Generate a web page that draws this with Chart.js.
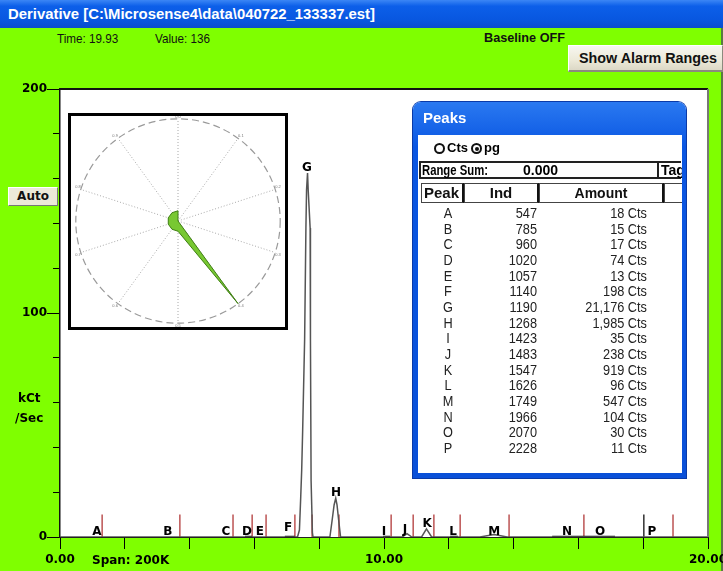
<!DOCTYPE html>
<html>
<head>
<meta charset="utf-8">
<script src="https://cdn.jsdelivr.net/npm/chart.js@4.4.0/dist/chart.umd.min.js"></script>
<style>
html,body{margin:0;padding:0;}
body{width:723px;height:571px;overflow:hidden;position:relative;background:#7FFF00;
  font-family:"Liberation Sans",Arial,sans-serif;}
.abs{position:absolute;white-space:nowrap;}
#titlebar{left:0;top:0;width:723px;height:28px;
  background:linear-gradient(#3b86f5,#0c5fe9 22%,#0857e0 70%,#0a4ccc);}
#titleTxt{left:8px;top:5px;color:#fff;font-weight:bold;font-size:15px;line-height:18px;transform-origin:left center;}
#winedge{left:721px;top:28px;width:2px;height:543px;background:#5a7a40;}
#timeTxt{left:57px;top:31px;font-size:13px;color:#111;transform-origin:left center;}
#valueTxt{left:155px;top:31px;font-size:13px;color:#111;transform-origin:left center;}
#baseTxt{left:484px;top:30px;font-size:13px;font-weight:bold;color:#111;transform-origin:left center;}
#alarmBtn{left:568px;top:45px;width:155px;height:27px;box-sizing:border-box;
  background:linear-gradient(#f7f6f0,#ece9d8 60%,#dcd8c6);border-top:1px solid #fff;border-left:1px solid #fff;
  border-bottom:2px solid #8c8a7e;border-right:1px solid #8c8a7e;}
#alarmTxt{left:10px;top:4px;font-weight:bold;font-size:14px;line-height:17px;color:#111;}
#autoBtn{left:8px;top:187px;width:50px;height:19px;box-sizing:border-box;background:#ece9d8;
  border-top:1px solid #fff;border-left:1px solid #fff;border-bottom:1px solid #777;border-right:1px solid #777;
  font:bold 12px "DejaVu Sans",sans-serif;line-height:17px;text-align:center;color:#111;z-index:3;}
.ylab{font:bold 12px "DejaVu Sans",sans-serif;color:#000;z-index:3;}
#main{position:absolute;left:0;top:0;z-index:1;}
#inset{left:68px;top:113px;width:214px;height:211px;border:3px solid #000;background:#fff;z-index:3;overflow:hidden;}
#polar{position:absolute;left:-2px;top:-2px;}
#peaks{left:413px;top:102px;width:273px;height:376px;z-index:4;border-radius:8px 8px 0 0;
  background:linear-gradient(#2a79f1,#0a56e2 12%,#0a50d8);box-shadow:0 0 0 1px #0a3aa8;}
#peaksTitle{left:10px;top:7px;color:#fff;font:bold 15px "Liberation Sans",sans-serif;}
#client{left:5px;top:33px;width:264px;height:338px;background:#fff;overflow:hidden;}
.radio{position:absolute;width:7px;height:7px;border:2px solid #111;border-radius:50%;}
.radio.sel::after{content:"";position:absolute;left:1.5px;top:1.5px;width:4px;height:4px;border-radius:50%;background:#111;}
.bold{font-weight:bold;}
#rangeBox{left:1px;top:26px;width:262px;height:18px;box-sizing:border-box;border:2px solid #222;border-right:none;}
#hdr{left:3px;top:48px;width:262px;height:20px;}
.hc{position:absolute;top:0;height:20px;box-sizing:border-box;border:1px solid #444;border-right:2px solid #111;
  font-weight:bold;font-size:14px;line-height:18px;color:#111;}
.row{position:absolute;left:0;width:264px;height:16px;font-size:15px;line-height:16px;color:#222;}
.row span{position:absolute;top:0;}
</style>
</head>
<body>
<div id="titlebar" class="abs"><div id="titleTxt" class="abs" data-fit="367">Derivative [C:\Microsense4\data\040722_133337.est]</div></div>
<div id="winedge" class="abs"></div>
<div id="timeTxt" class="abs" data-scale="0.9">Time: 19.93</div>
<div id="valueTxt" class="abs" data-scale="0.9">Value: 136</div>
<div id="baseTxt" class="abs" data-fit="81">Baseline OFF</div>
<div id="alarmBtn" class="abs"><div id="alarmTxt" class="abs" data-fit="138">Show Alarm Ranges</div></div>
<canvas id="main" width="723" height="571"></canvas>
<div id="autoBtn" class="abs">Auto</div>
<div class="abs ylab" style="left:18px;top:391px;">kCt</div>
<div class="abs ylab" style="left:15px;top:411px;">/Sec</div>
<div id="inset" class="abs"><canvas id="polar" width="218" height="215"></canvas></div>
<div id="peaks" class="abs">
  <div id="peaksTitle" class="abs">Peaks</div>
  <div id="client" class="abs">
    <div class="radio" style="left:16px;top:8px;"></div>
    <div class="abs bold" style="left:29px;top:5px;font-size:13px;">Cts</div>
    <div class="radio sel" style="left:53px;top:8px;"></div>
    <div class="abs bold" style="left:66px;top:5px;font-size:13px;">pg</div>
    <div id="rangeBox" class="abs">
      <div class="abs bold" style="left:1px;top:-1px;font-size:14px;" data-fit="66">Range Sum:</div>
      <div class="abs bold" style="left:102px;top:-1px;font-size:14px;">0.000</div>
      <div class="abs" style="left:236px;top:-2px;width:2px;height:18px;background:#222;"></div>
      <div class="abs bold" style="left:240px;top:-1px;font-size:14px;">Tag</div>
    </div>
    <div id="hdr" class="abs">
      <div class="hc" style="left:0;width:43px;padding-left:2px;font-size:15px;">Peak</div>
      <div class="hc" style="left:43px;width:75px;text-align:center;font-size:15px;">Ind</div>
      <div class="hc" style="left:118px;width:125px;text-align:center;">Amount</div>
      <div class="hc" style="left:243px;width:30px;border-right:none;"></div>
    </div>
    <div id="rows" class="abs" style="left:0;top:70px;"></div>
  </div>
</div>

<script>
// ---------- data ----------
const traceTime  = [0, 7.33, 7.35, 7.39, 7.43, 7.46, 7.49, 7.55, 7.59, 7.61, 7.64, 7.66, 7.72, 7.73, 7.75, 7.79, 7.81,
                    8.33, 8.40, 8.46, 8.51, 8.55, 8.60, 8.66, 10.56, 10.71, 10.86, 11.16, 11.31, 11.47, 12.96, 13.40, 13.80, 20];
const traceValue = [0, 0, 1, 3.1, 17.9, 30, 47.8, 88, 138, 155, 162.5, 155, 138, 88, 25, 2, 0,
                    0, 7.6, 14.3, 17.3, 14.3, 7.6, 0, 0, 1.5, 0, 0, 3.6, 0, 0, 1.1, 0, 0];
const baselineStart = [5.71, 6.94, 9.97, 12.04, 15.19];
const baselineEnd   = [5.93, 7.25, 10.19, 12.28, 17.13];
const redMarkerTimes   = [1.30, 3.70, 5.34, 5.93, 6.36, 7.25, 7.78, 8.61, 10.22, 10.90, 11.54, 12.35, 13.86, 16.17, 18.92];
const blackMarkerTimes = [18.02];
const markerHeight = 10;

const peakNames  = ['A','B','C','D','E','F','G','H','I','J','K','L','M','N','O','P'];
const peakTimes  = [1.14, 3.33, 5.12, 5.77, 6.17, 7.04, 7.62, 8.52, 10.00, 10.65, 11.33, 12.13, 13.40, 15.65, 16.67, 18.27];
const peakLevels = [0, 0, 0, 0, 0, 2, 162.5, 17.3, 0, 1, 3.6, 0, 0, 0, 0, 0];
const peakInd    = [547, 785, 960, 1020, 1057, 1140, 1190, 1268, 1423, 1483, 1547, 1626, 1749, 1966, 2070, 2228];
const peakAmount = [18, 15, 17, 74, 13, 198, 21176, 1985, 35, 238, 919, 96, 547, 104, 30, 11];

const xLabelValues = [0, 10, 20];
const yLabelValues = [0, 100, 200];

const spokeLabels = ['0.0','0.1','0.2','0.3','0.4','0.5','0.6','0.7','0.8','0.9'];
const directionValues = [10, 0, 0, 0, 100, 10, 10, 10, 10, 10];

// ---------- text fitting ----------
document.querySelectorAll('[data-fit]').forEach(el => {
  const w = el.getBoundingClientRect().width;
  el.style.transformOrigin = 'left center';
  el.style.transform = 'scaleX(' + (Number(el.dataset.fit) / w) + ')';
});
document.querySelectorAll('[data-scale]').forEach(el => {
  el.style.transform = 'scaleX(' + el.dataset.scale + ')';
});

// ---------- peaks table ----------
const rowsDiv = document.getElementById('rows');
peakNames.forEach((n, i) => {
  const r = document.createElement('div');
  r.className = 'row';
  r.style.top = (i * 15.67) + 'px';
  r.innerHTML =
    '<span style="left:20px;width:20px;text-align:center;transform:scaleX(0.85);">' + n + '</span>' +
    '<span style="left:59px;width:60px;text-align:right;transform:scaleX(0.85);transform-origin:right center;">' + peakInd[i] + '</span>' +
    '<span style="left:129px;width:100px;text-align:right;transform:scaleX(0.85);transform-origin:right center;">' +
      peakAmount[i].toLocaleString('en-US') + ' Cts</span>';
  rowsDiv.appendChild(r);
});

// ---------- main chart ----------
const xy = (xs, ys) => xs.map((x, i) => ({x: x, y: ys[i]}));
const segData = [];
baselineStart.forEach((s, i) => { segData.push({x: s, y: 0}, {x: baselineEnd[i], y: 0}, {x: baselineEnd[i], y: null}); });
const markerData = times => times.flatMap(t => [{x: t, y: 0}, {x: t, y: markerHeight}, {x: t, y: null}]);

const framePlugin = {
  id: 'frame',
  afterLayout(chart) {
    const a = chart.chartArea, y = chart.scales.y, m = chart.scales.yMinor;
    y.left = a.left - 60; y.right = a.left;
    m.left = a.left; m.right = a.left;
  },
  beforeDraw(chart) {
    const {ctx, chartArea: a} = chart;
    ctx.save();
    ctx.fillStyle = '#ffffff';
    ctx.fillRect(a.left, a.top, a.right - a.left, a.bottom - a.top);
    ctx.restore();
  },
  afterDatasetsDraw(chart) {
    const {ctx, scales: {x, y}} = chart;
    ctx.save();
    ctx.fillStyle = '#000';
    ctx.font = 'bold 12px "DejaVu Sans"';
    ctx.textAlign = 'center';
    ctx.textBaseline = 'alphabetic';
    peakNames.forEach((n, i) => {
      ctx.fillText(n, x.getPixelForValue(peakTimes[i]), y.getPixelForValue(peakLevels[i]) - 2);
    });
    ctx.restore();
  },
  afterDraw(chart) {
    const {ctx, chartArea: a} = chart;
    ctx.save();
    ctx.strokeStyle = '#111';
    ctx.lineWidth = 2;
    ctx.beginPath(); ctx.moveTo(a.left, a.top); ctx.lineTo(a.right, a.top); ctx.stroke();
    ctx.strokeStyle = '#777';
    ctx.beginPath(); ctx.moveTo(a.right, a.top); ctx.lineTo(a.right, a.bottom); ctx.stroke();
    ctx.fillStyle = '#000';
    ctx.font = 'bold 12px "DejaVu Sans"';
    ctx.textAlign = 'left';
    ctx.textBaseline = 'middle';
    ctx.fillText('Span: 200K', 92, 561);
    ctx.restore();
  }
};

const tickFont = {family: 'DejaVu Sans', weight: 'bold', size: 12};

new Chart(document.getElementById('main'), {
  type: 'line',
  data: {
    datasets: [
      {data: xy(traceTime, traceValue), borderColor: '#555', borderWidth: 1.5, pointRadius: 0, fill: false},
      {data: segData, borderColor: '#111', borderWidth: 2.5, pointRadius: 0, fill: false},
      {data: markerData(redMarkerTimes), borderColor: '#b23a3a', borderWidth: 1.3, pointRadius: 0, fill: false},
      {data: markerData(blackMarkerTimes), borderColor: '#111', borderWidth: 1.3, pointRadius: 0, fill: false}
    ]
  },
  options: {
    responsive: false, animation: false, events: [],
    layout: {padding: {left: 0, top: 89, right: 15, bottom: 0}},
    plugins: {legend: {display: false}, tooltip: {enabled: false}},
    scales: {
      x: {
        type: 'linear', min: 0, max: 20,
        ticks: {stepSize: 2, autoSkip: false, maxRotation: 0, color: '#000', font: tickFont, padding: 4,
                callback: v => xLabelValues.includes(v) ? v.toFixed(2) : ''},
        grid: {drawOnChartArea: false, tickLength: 12, tickColor: '#000', tickWidth: 1},
        border: {color: '#222', width: 1},
        afterFit(s) { s.height = 34; s.paddingLeft = 0; s.paddingRight = 0; }
      },
      y: {
        position: 'left', weight: 1, min: 0, max: 200,
        ticks: {stepSize: 100, autoSkip: false, color: '#000', font: tickFont, padding: 0,
                callback: v => yLabelValues.includes(v) ? String(v) : ''},
        grid: {drawOnChartArea: false, tickLength: 13, tickColor: '#000', tickWidth: 1},
        border: {color: '#111', width: 1.5},
        afterFit(s) { s.width = 60; s.paddingTop = 0; s.paddingBottom = 0; }
      },
      yMinor: {
        position: 'left', weight: 0, min: 0, max: 200,
        ticks: {stepSize: 20, autoSkip: false, font: {size: 1}, padding: 0, callback: () => ''},
        grid: {drawOnChartArea: false, tickLength: 7, tickColor: '#000', tickWidth: 1},
        border: {display: false},
        afterFit(s) { s.width = 0; s.paddingTop = 0; s.paddingBottom = 0; }
      }
    }
  },
  plugins: [framePlugin]
});

// ---------- polar inset ----------
new Chart(document.getElementById('polar'), {
  type: 'radar',
  data: {
    labels: spokeLabels,
    datasets: [{data: directionValues, backgroundColor: '#78c832', borderColor: '#3f7e14', borderWidth: 1,
                pointRadius: 0, fill: true}]
  },
  options: {
    responsive: false, animation: false, events: [],
    layout: {padding: 0},
    plugins: {legend: {display: false}, tooltip: {enabled: false}},
    scales: {
      r: {
        min: 0, max: 100,
        ticks: {display: false, stepSize: 100},
        grid: {circular: true, color: '#9a9a9a', lineWidth: 1.2},
        border: {dash: [7, 4]},
        angleLines: {color: '#a8a8a8', lineWidth: 1, borderDash: [1, 2]},
        pointLabels: {font: {size: 4}, color: '#777', padding: 0}
      }
    }
  }
});
</script>
</body>
</html>
